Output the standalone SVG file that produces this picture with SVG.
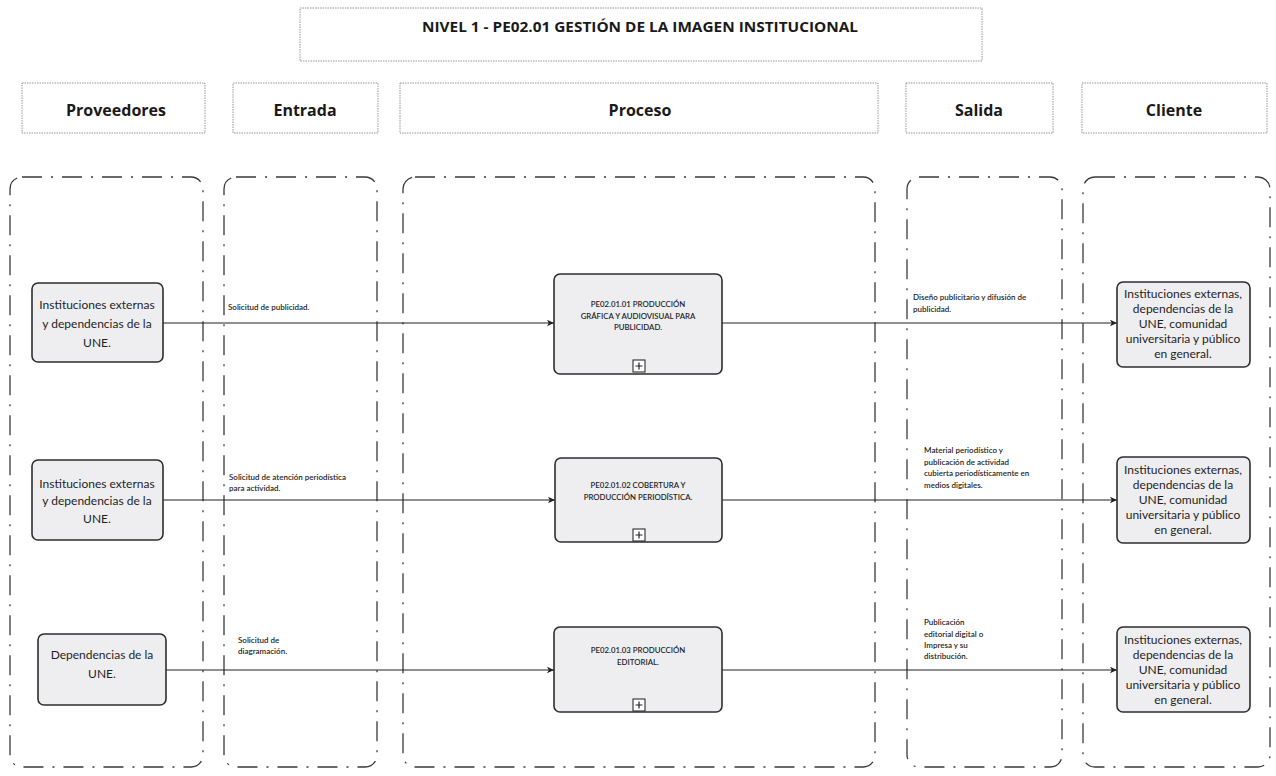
<svg xmlns="http://www.w3.org/2000/svg" width="1276" height="776" viewBox="0 0 1276 776">
<style>
.hdr{fill:#fff;stroke:#8a8a8a;stroke-width:0.9;stroke-dasharray:1.5 1}
.hdrt{font-family:"Open Sans",Lato,"Liberation Sans",sans-serif;font-weight:bold;font-size:16px;fill:#1a1a1a;text-anchor:middle}
.lane{fill:none;stroke:#3a3a3a;stroke-width:1.3;stroke-dasharray:20 9 2 9}
.box{fill:#eeeef1;stroke:#2e2e2e;stroke-width:1.6}
.bt{font-family:Lato,"Liberation Sans",sans-serif;font-size:12px;fill:#1e1e1e;text-anchor:middle}
.pt{font-family:Lato,"Liberation Sans",sans-serif;font-size:7.8px;fill:#1e1e1e;text-anchor:middle;font-weight:600}
.lt{font-family:Lato,"Liberation Sans",sans-serif;font-size:8px;fill:#1e1e1e;font-weight:600}
.ln{stroke:#222;stroke-width:1.2;fill:none}
.pl{fill:#fff;stroke:#2e2e2e;stroke-width:1.1}
</style>
<defs>
<marker id="arr" markerWidth="8" markerHeight="8" refX="7" refY="4" orient="auto" markerUnits="userSpaceOnUse">
<path d="M0,0.8 L7,4 L0,7.2 L1.8,4 Z" fill="#222"/>
</marker>
</defs>
<rect width="1276" height="776" fill="#fff"/>

<g id="title">
<rect class="hdr" x="300" y="8" width="682" height="53"/>
<text x="640" y="32" font-family="'Open Sans',Lato,'Liberation Sans',sans-serif" font-weight="bold" font-size="14.5" fill="#1a1a1a" text-anchor="middle" textLength="436" lengthAdjust="spacingAndGlyphs">NIVEL 1 - PE02.01 GESTIÓN DE LA IMAGEN INSTITUCIONAL</text>
</g>

<g id="headers">
<rect class="hdr" x="22" y="83" width="183" height="50"/>
<text class="hdrt" x="116" y="116">Proveedores</text>
<rect class="hdr" x="233" y="83" width="145" height="50"/>
<text class="hdrt" x="305" y="116">Entrada</text>
<rect class="hdr" x="400" y="83" width="478" height="50"/>
<text class="hdrt" x="640" y="116">Proceso</text>
<rect class="hdr" x="906" y="83" width="147" height="50"/>
<text class="hdrt" x="979" y="116">Salida</text>
<rect class="hdr" x="1082" y="83" width="185" height="50"/>
<text class="hdrt" x="1174" y="116">Cliente</text>
</g>

<g id="lanes">
<rect class="lane" x="10" y="177" width="193" height="590" rx="12"/>
<rect class="lane" x="224" y="177" width="153" height="590" rx="12"/>
<rect class="lane" x="403" y="177" width="472" height="590" rx="12"/>
<rect class="lane" x="907" y="177" width="155" height="590" rx="12"/>
<rect class="lane" x="1083" y="177" width="187" height="590" rx="12"/>
</g>

<g id="connectors">
<line class="ln" x1="163" y1="323" x2="554" y2="323" marker-end="url(#arr)"/>
<line class="ln" x1="722" y1="323" x2="1117" y2="323" marker-end="url(#arr)"/>
<line class="ln" x1="163" y1="500" x2="555" y2="500" marker-end="url(#arr)"/>
<line class="ln" x1="722" y1="500" x2="1117" y2="500" marker-end="url(#arr)"/>
<line class="ln" x1="166" y1="670" x2="554" y2="670" marker-end="url(#arr)"/>
<line class="ln" x1="722" y1="670" x2="1117" y2="670" marker-end="url(#arr)"/>
<text class="lt" x="228" y="310">Solicitud de publicidad.</text>
<text class="lt" x="229" y="480">Solicitud de atención periodística</text>
<text class="lt" x="229" y="491">para actividad.</text>
<text class="lt" x="238" y="643">Solicitud de</text>
<text class="lt" x="238" y="654">diagramación.</text>
<text class="lt" x="913" y="300">Diseño publicitario y difusión de</text>
<text class="lt" x="913" y="312">publicidad.</text>
<text class="lt" x="924" y="453">Material periodístico y</text>
<text class="lt" x="924" y="465">publicación de actividad</text>
<text class="lt" x="924" y="476">cubierta periodísticamente en</text>
<text class="lt" x="924" y="488">medios digitales.</text>
<text class="lt" x="924" y="625">Publicación</text>
<text class="lt" x="924" y="637">editorial digital o</text>
<text class="lt" x="924" y="648">Impresa y su</text>
<text class="lt" x="924" y="659">distribución.</text>
</g>

<g id="prov1">
<rect class="box" x="32" y="283" width="131" height="79" rx="6"/>
<text class="bt" x="97" y="309">Instituciones externas</text>
<text class="bt" x="97" y="328">y dependencias de la</text>
<text class="bt" x="97" y="347">UNE.</text>
</g>
<g id="prov2">
<rect class="box" x="32" y="460" width="131" height="80" rx="6"/>
<text class="bt" x="97" y="488">Instituciones externas</text>
<text class="bt" x="97" y="505">y dependencias de la</text>
<text class="bt" x="97" y="523">UNE.</text>
</g>
<g id="prov3">
<rect class="box" x="38" y="634" width="128" height="71" rx="6"/>
<text class="bt" x="102" y="659">Dependencias de la</text>
<text class="bt" x="102" y="678">UNE.</text>
</g>

<g id="proc1">
<rect class="box" x="554" y="274" width="168" height="100" rx="6"/>
<text class="pt" x="638" y="307">PE02.01.01 PRODUCCIÓN</text>
<text class="pt" x="638" y="319">GRÁFICA Y AUDIOVISUAL PARA</text>
<text class="pt" x="638" y="330">PUBLICIDAD.</text>
<rect class="pl" x="633" y="360" width="12" height="12"/>
<path class="ln" d="M639,362.5 V369.5 M635.5,366 H642.5" stroke-width="1.6"/>
</g>
<g id="proc2">
<rect class="box" x="555" y="458" width="167" height="84" rx="6"/>
<text class="pt" x="638" y="488">PE02.01.02 COBERTURA Y</text>
<text class="pt" x="638" y="500">PRODUCCIÓN PERIODÍSTICA.</text>
<rect class="pl" x="633" y="529" width="12" height="12"/>
<path class="ln" d="M639,531.5 V538.5 M635.5,535 H642.5" stroke-width="1.6"/>
</g>
<g id="proc3">
<rect class="box" x="554" y="627" width="168" height="85" rx="6"/>
<text class="pt" x="638" y="653">PE02.01.03  PRODUCCIÓN</text>
<text class="pt" x="638" y="665">EDITORIAL.</text>
<rect class="pl" x="633" y="699" width="12" height="12"/>
<path class="ln" d="M639,701.5 V708.5 M635.5,705 H642.5" stroke-width="1.6"/>
</g>

<g id="cli1">
<rect class="box" x="1117" y="282" width="133" height="85" rx="6"/>
<text class="bt" x="1183" y="298">Instituciones externas,</text>
<text class="bt" x="1183" y="313">dependencias de la</text>
<text class="bt" x="1183" y="328">UNE, comunidad</text>
<text class="bt" x="1183" y="343">universitaria y público</text>
<text class="bt" x="1183" y="358">en general.</text>
</g>
<g id="cli2">
<rect class="box" x="1117" y="457" width="133" height="86" rx="6"/>
<text class="bt" x="1183" y="474">Instituciones externas,</text>
<text class="bt" x="1183" y="489">dependencias de la</text>
<text class="bt" x="1183" y="504">UNE, comunidad</text>
<text class="bt" x="1183" y="519">universitaria y público</text>
<text class="bt" x="1183" y="534">en general.</text>
</g>
<g id="cli3">
<rect class="box" x="1117" y="627" width="133" height="85" rx="6"/>
<text class="bt" x="1183" y="644">Instituciones externas,</text>
<text class="bt" x="1183" y="659">dependencias de la</text>
<text class="bt" x="1183" y="674">UNE, comunidad</text>
<text class="bt" x="1183" y="689">universitaria y público</text>
<text class="bt" x="1183" y="704">en general.</text>
</g>
</svg>
